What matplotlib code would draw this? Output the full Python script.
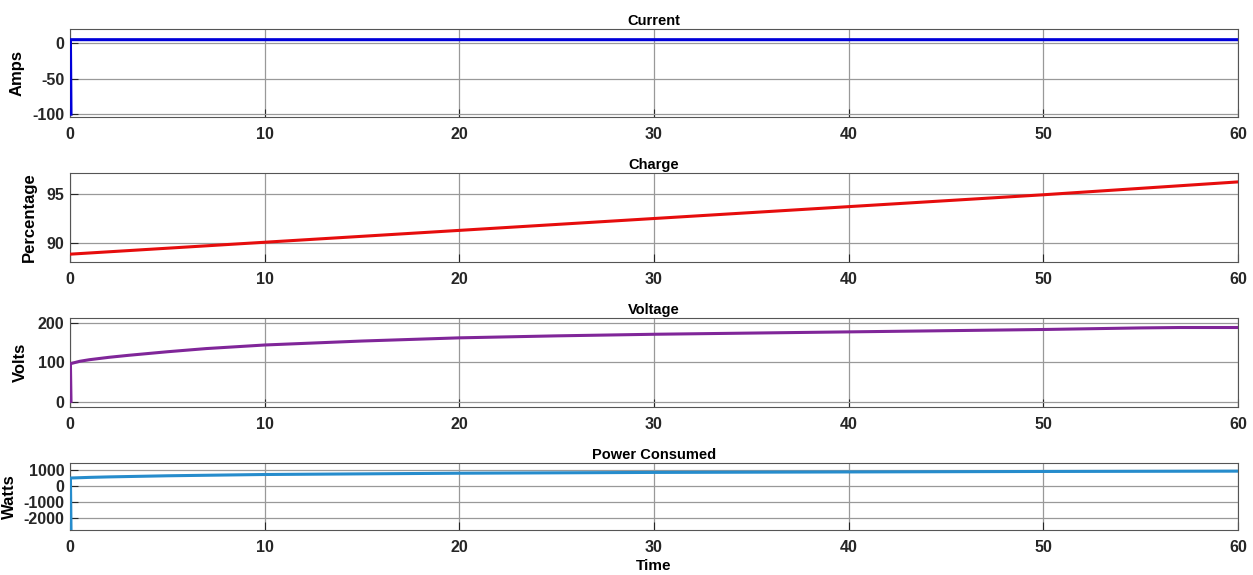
import numpy as np
import matplotlib.pyplot as plt

plt.rcParams['font.family'] = ['Liberation Sans', 'DejaVu Sans']
plt.rcParams['font.weight'] = 'bold'
plt.rcParams['axes.unicode_minus'] = False

# values
t_current = [0, 0.02, 10, 20, 30, 40, 50, 60]
current = [-100, 5, 5, 5, 5, 5, 5, 5]

t_charge = [0, 10, 20, 30, 40, 50, 60]
charge = [88.9, 90.1, 91.3, 92.5, 93.7, 94.9, 96.2]

t_voltage = [0, 0.02, 0.5, 1, 2, 3, 5, 7, 10, 15, 20, 25, 30, 35, 40, 45, 50, 55, 57, 60]
voltage = [2, 97, 103, 107, 113, 118, 127, 135, 144, 154, 162, 167, 171, 174, 177, 180, 183, 187, 188, 188]

t_power = [0, 0.02, 1, 2, 5, 10, 20, 30, 40, 50, 60]
power = [-2700, 500, 540, 570, 640, 720, 800, 850, 880, 910, 930]

fig = plt.figure(figsize=(12.53, 5.75), dpi=100)

panels = [
    (t_current, current, (0.0, 0.0, 0.85), 'Current', 'Amps', (-104, 20), [-100, -50, 0], 0.7965, 0.153, 25),
    (t_charge, charge, (0.9, 0.05, 0.05), 'Charge', 'Percentage', (88.1, 97.1), [90, 95], 0.5443, 0.1548, 37),
    (t_voltage, voltage, (0.5, 0.15, 0.6), 'Voltage', 'Volts', (-12, 212), [0, 100, 200], 0.2922, 0.1548, 28),
    (t_power, power, (0.15, 0.55, 0.8), 'Power Consumed', 'Watts', (-2750, 1440), [-2000, -1000, 0, 1000], 0.0783, 0.1165, 17),
]

for i, (x, y, c, title, ylab, ylim, yt, b, h, lx) in enumerate(panels):
    ax = fig.add_axes([0.0559, b, 0.932, h])
    ax.plot(np.array(x) + 0.05 * (np.array(x) == 0), y, color=c, lw=2.2, zorder=3)
    ax.set_xlim(0, 60)
    ax.set_ylim(*ylim)
    ax.set_xticks(range(0, 61, 10))
    ax.set_yticks(yt)
    ax.grid(True, color='#999999', lw=0.9)
    ax.tick_params(direction='in', length=6, labelsize=11.5, colors='#262626', pad=4)
    ax.tick_params(axis='x', pad=7)
    for s in ax.spines.values():
        s.set_color('#555555')
    ax.set_title(title, fontsize=10.5, fontweight='bold', pad=3)
    ax.set_ylabel(ylab, fontsize=12, fontweight='bold')
    ax.yaxis.set_label_coords((lx - 70) / 1168, 0.5)
    if i == 3:
        ax.set_xlabel('Time', fontsize=11, fontweight='bold', labelpad=3)

fig.savefig('out.png', dpi=100)
